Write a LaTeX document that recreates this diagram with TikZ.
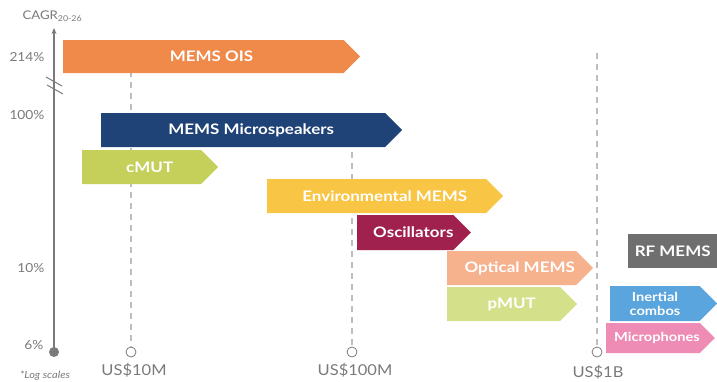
\documentclass[tikz,border=0pt]{standalone}
\usepackage{fontspec}
\setmainfont{Lato}[FakeStretch=1.1]
\newfontfamily\barfont{Lato}[FakeStretch=1.17]
\usetikzlibrary{shapes.symbols, arrows.meta}

\definecolor{axisgrey}{HTML}{7A7A7A}
\definecolor{guidegrey}{HTML}{BDBDBD}
\definecolor{oiscol}{HTML}{EF8A4B}
\definecolor{spkcol}{HTML}{1F4277}
\definecolor{cmutcol}{HTML}{C4D05A}
\definecolor{envcol}{HTML}{F8C545}
\definecolor{osccol}{HTML}{A0214D}
\definecolor{optcol}{HTML}{F6B18D}
\definecolor{pmutcol}{HTML}{D5E08A}
\definecolor{rfcol}{HTML}{6F6F6F}
\definecolor{inercol}{HTML}{5AA5DD}
\definecolor{miccol}{HTML}{EE8CB5}

\begin{document}
\begin{tikzpicture}[x=1pt, y=-1pt,
    bar/.style={signal, signal to=east, fill=#1, text=white, inner sep=0pt, anchor=west,
                font=\barfont\bfseries\fontsize{14.5}{16}\selectfont},
    offset/.style={execute at begin node={\hspace*{16pt}}},
    smallbar/.style={font=\barfont\bfseries\fontsize{12.5}{14}\selectfont},
    axislabel/.style={text=axisgrey, font=\fontsize{12.5}{15}\selectfont},
    guide/.style={draw=guidegrey, line width=1.3pt, dash pattern=on 6pt off 5pt},
    tick/.style={circle, draw=axisgrey, fill=white, line width=0.8pt, inner sep=0pt, minimum size=10pt}]
    \useasboundingbox (0,0) rectangle (717,381);

    % value markers on the x axis
    \node[tick] (m10) at (131,352) {} ;
    \node[tick] (m100) at (352,352) {} ;
    \node[tick] (m1b) at (597,352) {} ;
    \coordinate (g10) at (131,60) ;
    \coordinate (g100) at (352,130) ;
    \coordinate (g1b) at (597,53) ;
    \draw[guide] (g10) -- (m10.north) ;
    \draw[guide] (g100) -- (m100.north) ;
    \draw[guide] (g1b) -- (m1b.north) ;
    \node[axislabel, font=\fontsize{15}{17}\selectfont] (l10) at (134,370) {US\$10M} ;
    \node[axislabel, font=\fontsize{15}{17}\selectfont] (l100) at (355,370) {US\$100M} ;
    \node[axislabel, font=\fontsize{15}{17}\selectfont] (l1b) at (598,372) {US\$1B} ;

    % y axis
    \node[circle, fill=axisgrey, inner sep=0pt, minimum size=10pt] (origin) at (54,352) {} ;
    \coordinate (ytop) at (54,28) ;
    \draw[-{Stealth[length=6pt, width=5pt]}, axisgrey, line width=1.4pt] (origin.center) -- (ytop) ;
    \coordinate (brk1a) at (46,77) ;
    \coordinate (brk1b) at (62,86) ;
    \coordinate (brk2a) at (47,85) ;
    \coordinate (brk2b) at (63,94) ;
    \draw[axisgrey, line width=1pt] (brk1a) -- (brk1b) ;
    \draw[axisgrey, line width=1pt] (brk2a) -- (brk2b) ;
    \node[axislabel, anchor=west, font=\fontsize{12}{14}\selectfont] (cagr) at (19,16) {CAGR\textsubscript{20-26}} ;
    \node[axislabel, anchor=east] (y214) at (48,57) {214\%} ;
    \node[axislabel, anchor=east] (y100) at (48,115) {100\%} ;
    \node[axislabel, anchor=east] (y10) at (48,268) {10\%} ;
    \node[axislabel, anchor=east] (y6) at (47,345) {6\%} ;
    \node[axislabel, font=\itshape\fontsize{10}{12}\selectfont] (logs) at (45,376) {*Log scales} ;

    % market bars
    \node[bar=oiscol, offset, minimum width=297pt, minimum height=33pt] (ois) at (63,56.5) {MEMS OIS} ;
    \node[bar=spkcol, offset, minimum width=301pt, minimum height=34pt] (spk) at (101,130) {MEMS Microspeakers} ;
    \node[bar=cmutcol, offset, minimum width=136pt, minimum height=34pt] (cmut) at (82,167) {cMUT} ;
    \node[bar=envcol, offset, minimum width=236pt, minimum height=34pt] (env) at (267,196) {Environmental MEMS} ;
    \node[bar=osccol, offset, minimum width=111pt, minimum height=35pt] (osc) at (357,232.5) {Oscillators} ;
    \node[bar=optcol, offset, minimum width=146pt, minimum height=34pt] (opt) at (447,268) {Optical MEMS} ;
    \node[bar=pmutcol, offset, minimum width=130pt, minimum height=34pt] (pmut) at (447,304) {pMUT} ;
    \node[bar=rfcol, shape=rectangle, minimum width=89pt, minimum height=34pt] (rf) at (628,251) {RF MEMS} ;
    \node[bar=inercol, smallbar, minimum width=107pt, minimum height=35pt, align=center] (iner) at (610,303.5) {Inertial\\combos} ;
    \node[bar=miccol, smallbar, offset, minimum width=99pt, minimum height=30pt] (mic) at (606,338) {\hspace*{-8pt}Microphones} ;

\end{tikzpicture}
\end{document}
